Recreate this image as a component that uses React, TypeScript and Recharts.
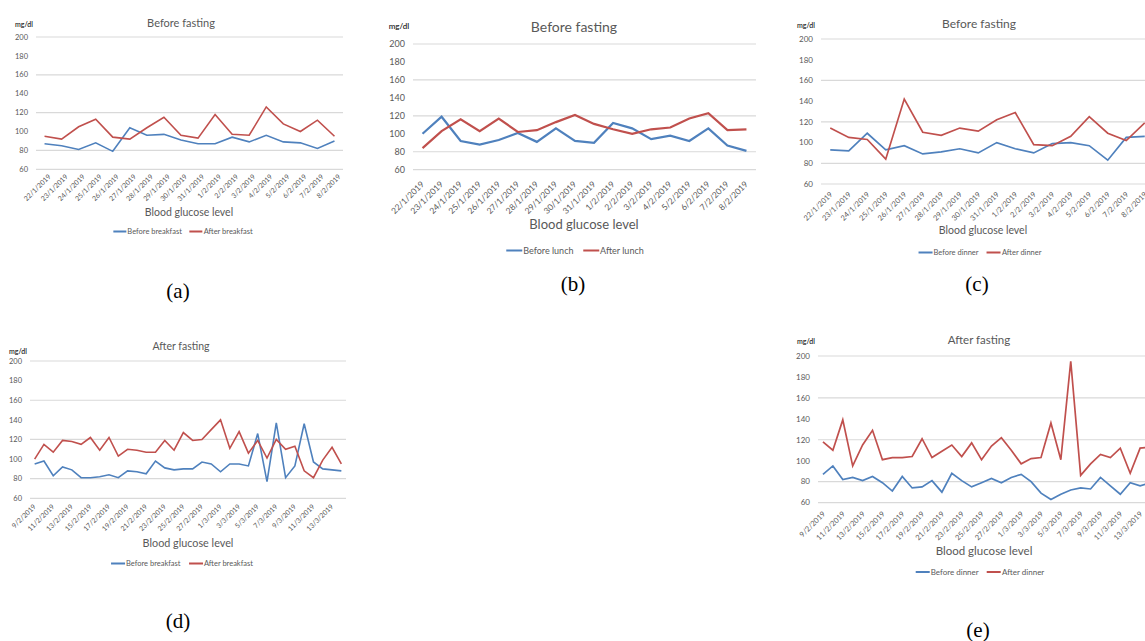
import { LineChart, Line, XAxis, YAxis, CartesianGrid } from 'recharts';

const BLUE = '#4F81BD';
const RED = '#C0504D';
const GRID = '#D9D9D9';
const TEXT = '#595959';
const FONT = 'Lato, "Noto Sans", sans-serif';

// dates for panels (a)-(c)
const datesJan = [
  '22/1/2019', '23/1/2019', '24/1/2019', '25/1/2019', '26/1/2019', '27/1/2019',
  '28/1/2019', '29/1/2019', '30/1/2019', '31/1/2019', '1/2/2019', '2/2/2019',
  '3/2/2019', '4/2/2019', '5/2/2019', '6/2/2019', '7/2/2019', '8/2/2019',
];

// dates for panels (d)-(e)
const datesFeb = [
  '9/2/2019', '10/2/2019', '11/2/2019', '12/2/2019', '13/2/2019', '14/2/2019',
  '15/2/2019', '16/2/2019', '17/2/2019', '18/2/2019', '19/2/2019', '20/2/2019',
  '21/2/2019', '22/2/2019', '23/2/2019', '24/2/2019', '25/2/2019', '26/2/2019',
  '27/2/2019', '28/2/2019', '1/3/2019', '2/3/2019', '3/3/2019', '4/3/2019',
  '5/3/2019', '6/3/2019', '7/3/2019', '8/3/2019', '9/3/2019', '10/3/2019',
  '11/3/2019', '12/3/2019', '13/3/2019', '14/3/2019',
];

const yTicks = [60, 80, 100, 120, 140, 160, 180, 200];

const beforeBreakfastA = [87, 85, 81, 88, 79, 104, 96, 97, 91, 87, 87, 94, 89, 96, 89, 88, 82, 90];
const afterBreakfastA = [95, 92, 105, 113, 94, 92, 104, 115, 96, 93, 118, 97, 96, 126, 108, 100, 112, 95];

const beforeLunchB = [100, 119, 92, 88, 93, 101, 91, 106, 92, 90, 112, 106, 94, 98, 92, 106, 87, 81];
const afterLunchB = [84, 103, 116, 103, 117, 102, 104, 113, 121, 111, 105, 100, 105, 107, 117, 123, 104, 105];

const beforeDinnerC = [93, 92, 109, 93, 97, 89, 91, 94, 90, 100, 94, 90, 99, 100, 97, 83, 105, 106];
const afterDinnerC = [114, 105, 103, 84, 142, 110, 107, 114, 111, 122, 129, 98, 97, 106, 125, 109, 102, 119];

const beforeBreakfastD = [
  95, 98, 83, 92, 89, 81, 81, 82, 84, 81, 88, 87, 85, 98, 91, 89, 90, 90,
  97, 95, 87, 95, 95, 93, 126, 77, 137, 81, 93, 136, 97, 90, 89, 88,
];
const afterBreakfastD = [
  100, 115, 107, 119, 118, 115, 122, 109, 122, 103, 110, 109, 107, 107, 119, 109, 127, 119,
  120, 130, 140, 111, 128, 106, 119, 101, 120, 110, 113, 88, 81, 99, 112, 95,
];

const beforeDinnerE = [
  87, 95, 82, 84, 81, 85, 79, 71, 85, 74, 75, 81, 70, 88, 81, 75, 79, 83,
  79, 84, 87, 80, 69, 63, 68, 72, 74, 73, 84, 76, 68, 79, 76, 79,
];
const afterDinnerE = [
  118, 110, 139, 95, 115, 129, 101, 103, 103, 104, 121, 103, 109, 115, 104, 117, 101, 114,
  122, 110, 97, 102, 103, 136, 101, 195, 86, 97, 106, 103, 112, 88, 112, 113,
];

const zip = (dates: string[], before: number[], after: number[]) =>
  dates.map((date, i) => ({ date, before: before[i], after: after[i] }));

function DateTick(props: any) {
  const { x, y, payload, fontSize, dx = 0, dy = 0 } = props;
  return (
    <g transform={`translate(${x + dx},${y + dy})`}>
      <text transform="rotate(-45)" textAnchor="end" dy="0.35em" fontSize={fontSize} fill={TEXT} fontFamily={FONT}>
        {payload.value}
      </text>
    </g>
  );
}

interface PanelProps {
  data: { date: string; before: number; after: number }[];
  names: [string, string];
  plotLeft: number;
  plotRight: number;
  yTop: number;
  yBottom: number;
  interval: number;
  yFont: number;
  xFont: number;
  tickShift: [number, number];
  stroke: number;
  title: { x: number; y: number; size: number; text: string };
  mg: { x: number; y: number; size: number };
  xTitle: { x: number; y: number; size: number };
  legend: { x: number; y: number; size: number; line: number };
  caption: { x: number; y: number; text: string };
}

function Panel(p: PanelProps) {
  const yAxisW = 30;
  const top = 10;
  const xAxisH = 50;
  const left = p.plotLeft - yAxisW;
  const width = p.plotRight - left + 5;
  const height = p.yBottom - p.yTop + top + xAxisH;
  const half = (p.plotRight - p.plotLeft) / p.data.length / 2;
  const center = (x: number, y: number): React.CSSProperties => ({
    position: 'absolute', left: x, top: y, transform: 'translate(-50%,-50%)', whiteSpace: 'nowrap',
  });
  return (
    <>
      <div style={{ position: 'absolute', left, top: p.yTop - top }}>
        <LineChart width={width} height={height} data={p.data} margin={{ top, right: 5, bottom: 0, left: 0 }}>
          <CartesianGrid vertical={false} stroke={GRID} strokeWidth={1.2} />
          <XAxis
            dataKey="date"
            interval={p.interval}
            height={xAxisH}
            axisLine={false}
            tickLine={false}
            tickSize={2}
            tickMargin={2}
            padding={{ left: half, right: half }}
            tick={<DateTick fontSize={p.xFont} dx={p.tickShift[0]} dy={p.tickShift[1]} />}
          />
          <YAxis
            width={yAxisW}
            domain={[60, 200]}
            ticks={yTicks}
            axisLine={false}
            tickLine={false}
            tick={{ fontSize: p.yFont, fill: TEXT, fontFamily: FONT }}
          />
          <Line type="linear" dataKey="before" name={p.names[0]} stroke={BLUE} strokeWidth={p.stroke} dot={false} isAnimationActive={false} />
          <Line type="linear" dataKey="after" name={p.names[1]} stroke={RED} strokeWidth={p.stroke} dot={false} isAnimationActive={false} />
        </LineChart>
      </div>
      <div style={{ ...center(p.title.x, p.title.y), fontSize: p.title.size, color: TEXT, fontFamily: FONT }}>{p.title.text}</div>
      <div style={{ ...center(p.mg.x, p.mg.y), fontSize: p.mg.size, color: '#262626', fontFamily: FONT, fontWeight: 600 }}>mg/dl</div>
      <div style={{ ...center(p.xTitle.x, p.xTitle.y), fontSize: p.xTitle.size, color: TEXT, fontFamily: FONT }}>Blood glucose level</div>
      <div style={{ ...center(p.legend.x, p.legend.y), display: 'flex', alignItems: 'center', fontSize: p.legend.size, color: TEXT, fontFamily: FONT }}>
        {[BLUE, RED].map((c, i) => (
          <span key={c} style={{ display: 'flex', alignItems: 'center', marginRight: i === 0 ? p.legend.line * 0.6 : 0 }}>
            <span style={{ display: 'inline-block', width: p.legend.line, height: 2, background: c, marginRight: 1 }} />
            {p.names[i]}
          </span>
        ))}
      </div>
      <div style={{ ...center(p.caption.x, p.caption.y), fontSize: 21, color: '#000', fontFamily: '"Liberation Serif", serif' }}>{p.caption.text}</div>
    </>
  );
}

export default function App() {
  return (
    <div style={{ position: 'fixed', left: 0, top: 0, width: 1145, height: 641, overflow: 'hidden', background: '#fff' }}>
      <Panel
        data={zip(datesJan, beforeBreakfastA, afterBreakfastA)}
        names={['Before breakfast', 'After breakfast']}
        plotLeft={36} plotRight={343} yTop={36.7} yBottom={169}
        interval={0} yFont={7.5} xFont={7} tickShift={[5, 2]} stroke={1.6}
        title={{ x: 181, y: 22, size: 11, text: 'Before fasting' }}
        mg={{ x: 24, y: 24, size: 7 }}
        xTitle={{ x: 189, y: 212, size: 10.5 }}
        legend={{ x: 183, y: 231, size: 7.5, line: 13 }}
        caption={{ x: 178, y: 291, text: '(a)' }}
      />
      <Panel
        data={zip(datesJan, beforeLunchB, afterLunchB)}
        names={['Before lunch', 'After lunch']}
        plotLeft={413} plotRight={756} yTop={44.3} yBottom={170}
        interval={0} yFont={9} xFont={8.5} tickShift={[0, 9]} stroke={2.2}
        title={{ x: 574, y: 26, size: 14, text: 'Before fasting' }}
        mg={{ x: 399, y: 26, size: 8 }}
        xTitle={{ x: 584, y: 224, size: 13 }}
        legend={{ x: 575, y: 250, size: 9, line: 16 }}
        caption={{ x: 573, y: 284, text: '(b)' }}
      />
      <Panel
        data={zip(datesJan, beforeDinnerC, afterDinnerC)}
        names={['Before dinner', 'After dinner']}
        plotLeft={821} plotRight={1154} yTop={39.3} yBottom={184.3}
        interval={0} yFont={8} xFont={7.5} tickShift={[1, 5]} stroke={1.7}
        title={{ x: 979, y: 23, size: 12, text: 'Before fasting' }}
        mg={{ x: 806, y: 25, size: 7 }}
        xTitle={{ x: 983, y: 230, size: 10.5 }}
        legend={{ x: 980, y: 252, size: 7.5, line: 14 }}
        caption={{ x: 977, y: 284, text: '(c)' }}
      />
      <Panel
        data={zip(datesFeb, beforeBreakfastD, afterBreakfastD)}
        names={['Before breakfast', 'After breakfast']}
        plotLeft={30} plotRight={346} yTop={361} yBottom={498.3}
        interval={1} yFont={7.5} xFont={7} tickShift={[0, 3]} stroke={1.6}
        title={{ x: 181, y: 346, size: 10.5, text: 'After fasting' }}
        mg={{ x: 18, y: 351, size: 7 }}
        xTitle={{ x: 188, y: 542, size: 10.8 }}
        legend={{ x: 182, y: 563, size: 7.5, line: 14 }}
        caption={{ x: 178, y: 621, text: '(d)' }}
      />
      <Panel
        data={zip(datesFeb, beforeDinnerE, afterDinnerE)}
        names={['Before dinner', 'After dinner']}
        plotLeft={818} plotRight={1155} yTop={355.7} yBottom={502.3}
        interval={1} yFont={8} xFont={7.5} tickShift={[1, 6]} stroke={1.7}
        title={{ x: 979, y: 339, size: 11.5, text: 'After fasting' }}
        mg={{ x: 806, y: 341, size: 7 }}
        xTitle={{ x: 984, y: 550, size: 11.5 }}
        legend={{ x: 980, y: 572, size: 8, line: 14 }}
        caption={{ x: 978, y: 630, text: '(e)' }}
      />
    </div>
  );
}
